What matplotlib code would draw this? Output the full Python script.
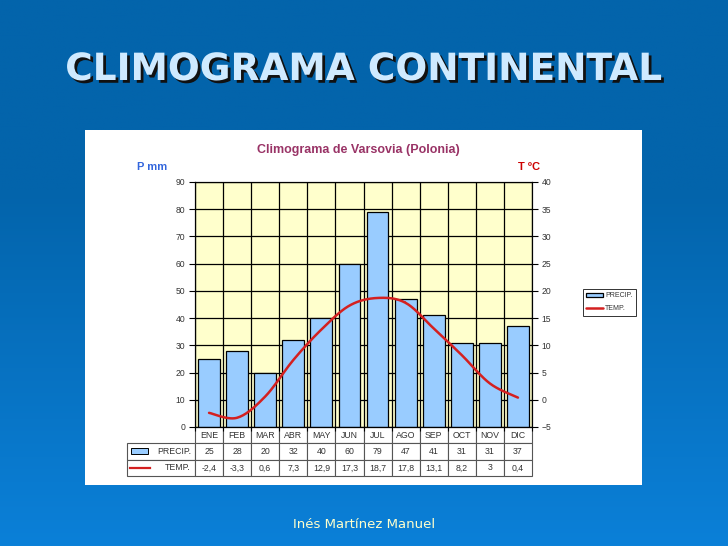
import numpy as np
import matplotlib
matplotlib.use("Agg")
import matplotlib.pyplot as plt
import matplotlib.patheffects as pe
from matplotlib.patches import Rectangle
from matplotlib.lines import Line2D
from matplotlib.table import Table

# data (Varsovia)
months = ["ENE", "FEB", "MAR", "ABR", "MAY", "JUN", "JUL", "AGO", "SEP", "OCT", "NOV", "DIC"]
precip = [25, 28, 20, 32, 40, 60, 79, 47, 41, 31, 31, 37]
temp = [-2.4, -3.3, 0.6, 7.3, 12.9, 17.3, 18.7, 17.8, 13.1, 8.2, 3, 0.4]

W, H = 728, 546
def fx(px):
    return px / W
def fy(py):
    return 1 - py / H

fig = plt.figure(figsize=(7.28, 5.46), dpi=100)

# slide background
bg = fig.add_axes([0, 0, 1, 1], zorder=0)
top = np.array([0x03, 0x64, 0xab]) / 255
bot = np.array([0x0b, 0x80, 0xd8]) / 255
t = np.clip((np.linspace(0, 1, 300) - 0.35) / 0.65, 0, 1)[:, None]
grad = top * (1 - t) + bot * t
bg.imshow(grad[:, None, :].repeat(4, axis=1), aspect="auto", extent=[0, 1, 0, 1])
bg.set_xlim(0, 1)
bg.set_ylim(0, 1)
bg.axis("off")
bg.add_patch(Rectangle((fx(85), fy(485)), fx(642) - fx(85), (485 - 130) / H,
                       facecolor="white", edgecolor="none"))

# slide title with shadow
fig.text(fx(364), fy(70), "CLIMOGRAMA CONTINENTAL", color="#cfeaff",
         fontsize=27, fontweight="bold", ha="center", va="center", family="DejaVu Sans",
         path_effects=[pe.withSimplePatchShadow(offset=(2, -2), shadow_rgbFace="#111111",
                                                alpha=1.0)])
fig.text(fx(364), fy(524), "Inés Martínez Manuel", color="#ffffcc",
         fontsize=9.5, ha="center", va="center")

# chart texts
fig.text(fx(358), fy(150), "Climograma de Varsovia (Polonia)", color="#993366",
         fontsize=9, fontweight="bold", ha="center", va="center", family="Liberation Sans")
fig.text(fx(137), fy(167), "P mm", color="#3366dd", fontsize=8, fontweight="bold",
         ha="left", va="center", family="Liberation Sans")
fig.text(fx(529), fy(167), "T ºC", color="#cc0000", fontsize=8, fontweight="bold",
         ha="center", va="center", family="Liberation Sans")

ax = fig.add_axes([fx(195), fy(427), 337 / W, 245 / H], zorder=2)
ax.set_facecolor("#ffffcc")
x = np.arange(len(months))
bars = ax.bar(x, precip, width=0.78, color="#99ccff", edgecolor="black", linewidth=0.9)
ax.set_xlim(-0.5, 11.5)
ax.set_ylim(0, 90)
ax.set_yticks(range(0, 91, 10))
ax.set_xticks(np.arange(-0.5, 12, 1))
ax.set_xticklabels([])
ax.set_axisbelow(True)
ax.grid(True, color="black", linewidth=0.9)
ax.tick_params(axis="y", labelsize=6.2, labelcolor="#333333", length=4, pad=3)
ax.tick_params(axis="x", length=3)
for lab in ax.get_yticklabels():
    lab.set_family("Liberation Sans")

ax2 = ax.twinx()
ax2.set_ylim(-5, 40)
ax2.set_yticks(range(-5, 41, 5))
ax2.tick_params(axis="y", labelsize=6.2, labelcolor="#333333", length=4, pad=3)
for lab in ax2.get_yticklabels():
    lab.set_family("Liberation Sans")

# smooth line like the spreadsheet one
def smooth(xs, ys, n=20):
    p = np.column_stack([xs, ys]).astype(float)
    p = np.vstack([p[0], p, p[-1]])
    out = []
    for i in range(1, len(p) - 2):
        p0, p1, p2, p3 = p[i - 1], p[i], p[i + 1], p[i + 2]
        s = np.linspace(0, 1, n)[:, None]
        out.append(0.5 * (2 * p1 + (-p0 + p2) * s + (2 * p0 - 5 * p1 + 4 * p2 - p3) * s ** 2
                          + (-p0 + 3 * p1 - 3 * p2 + p3) * s ** 3))
    out = np.vstack(out)
    return out[:, 0], out[:, 1]

sx, sy = smooth(x, temp)
line, = ax2.plot(sx, sy, color="#d42020", linewidth=1.8, solid_capstyle="round")

# data table
tb = Table(ax, bbox=[-68 / 337, -49 / 245, 1 + 68 / 337, 49 / 245])
w0 = 68 / (337 / 12)
def fmt(v):
    return f"{v:g}".replace(".", ",")
for j, m in enumerate(months):
    tb.add_cell(0, j + 1, 1, 1, text=m, loc="center")
tb.add_cell(1, 0, w0, 1, text="PRECIP.", loc="right")
tb.add_cell(2, 0, w0, 1, text="TEMP.", loc="right")
for j in range(len(months)):
    tb.add_cell(1, j + 1, 1, 1, text=fmt(precip[j]), loc="center")
    tb.add_cell(2, j + 1, 1, 1, text=fmt(temp[j]), loc="center")
tb.auto_set_font_size(False)
tb.set_fontsize(6.3)
for cell in tb.get_celld().values():
    cell.set_edgecolor("#555555")
    cell.set_linewidth(0.8)
    cell.PAD = 0.06
    cell.get_text().set_color("#333333")
    cell.get_text().set_family("Liberation Sans")
ax.add_table(tb)

ax.add_patch(Rectangle(((131 - 195) / 337, -(454 - 427) / 245), 17 / 337, 6 / 245,
                       transform=ax.transAxes, clip_on=False, facecolor="#99ccff",
                       edgecolor="black", linewidth=0.7, zorder=5))
ax.add_line(Line2D([(130 - 195) / 337, (150 - 195) / 337], [-(467.5 - 427) / 245] * 2,
                   transform=ax.transAxes, clip_on=False, color="#d42020", linewidth=1.6,
                   zorder=5))

# legend
leg = fig.legend([bars, line], ["PRECIP.", "TEMP."], loc="upper left",
                 bbox_to_anchor=(fx(583), fy(289)), fontsize=5, frameon=True,
                 fancybox=False, edgecolor="black", handlelength=2.4, handleheight=0.6,
                 borderpad=0.5, labelspacing=0.8, handletextpad=0.3, borderaxespad=0)
leg.get_frame().set_linewidth(0.7)
for txt in leg.get_texts():
    txt.set_color("#333333")
    txt.set_family("Liberation Sans")

fig.savefig("out.png", dpi=100)
